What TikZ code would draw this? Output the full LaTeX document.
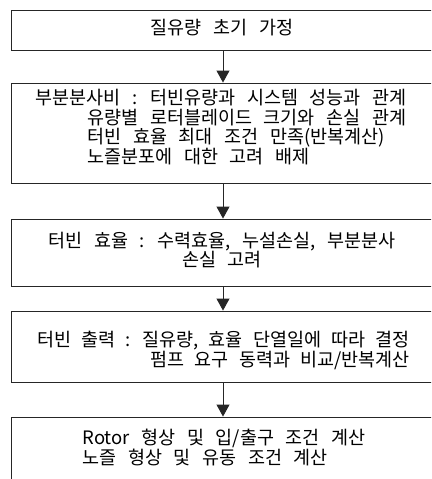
\documentclass[tikz,border=0pt]{standalone}
\usepackage{fontspec}
\setmainfont{Noto Sans CJK KR}[WordSpace=2.8]
\usetikzlibrary{arrows.meta}
\newcommand{\narrowspaces}{\spaceskip=10.2pt plus 0pt minus 0pt\relax}
\begin{document}
\begin{tikzpicture}[x=1pt,y=-1pt,
  box/.style={draw=black!85, line width=0.9pt, minimum width=424pt, inner sep=0pt},
  txt/.style={inner sep=0pt, font=\fontsize{18.5}{19.8}\selectfont},
  flow/.style={draw=black!85, line width=0.9pt, -{Triangle[width=13pt,length=12pt]}}]
\useasboundingbox (0,0) rectangle (431,479);
\clip (0,0) rectangle (431,479);
\node[box, minimum height=40pt]  (b1) at (223,30) {};
\node[box, minimum height=100pt] (b2) at (223,133) {};
\node[box, minimum height=67pt]  (b3) at (223,252.5) {};
\node[box, minimum height=71pt]  (b4) at (223,346.5) {};
\node[box, minimum height=90pt]  (b5) at (223,462) {};
\node[txt] (t1) at (222,28) {질유량 초기 가정};
\node[txt, align=left] (t2) at (221,127) {부분분사비 : 터빈유량과 시스템 성능과 관계\\
\hspace*{52pt}유량별 로터블레이드 크기와 손실 관계\\
\hspace*{52pt}터빈 효율 최대 조건 만족(반복계산)\\
\hspace*{52pt}노즐분포에 대한 고려 배제};
\node[txt, align=center] (t3) at (222,250) {터빈 효율 : 수력효율, 누설손실, 부분분사\\손실 고려};
\node[txt, align=right] (t4) at (223.5,350.5) {\narrowspaces 터빈 출력 : 질유량, 효율 단열일에 따라 결정\\\narrowspaces 펌프 요구 동력과 비교/반복계산};
\node[txt, align=left] (t5) at (224,447.5) {Rotor 형상 및 입/출구 조건 계산\\노즐 형상 및 유동 조건 계산};
\draw[flow] (b1.south) -- (b2.north);
\draw[flow] (b2.south) -- (b3.north);
\draw[flow] (b3.south) -- (b4.north);
\draw[flow] (b4.south) -- (b5.north);
\end{tikzpicture}
\end{document}
